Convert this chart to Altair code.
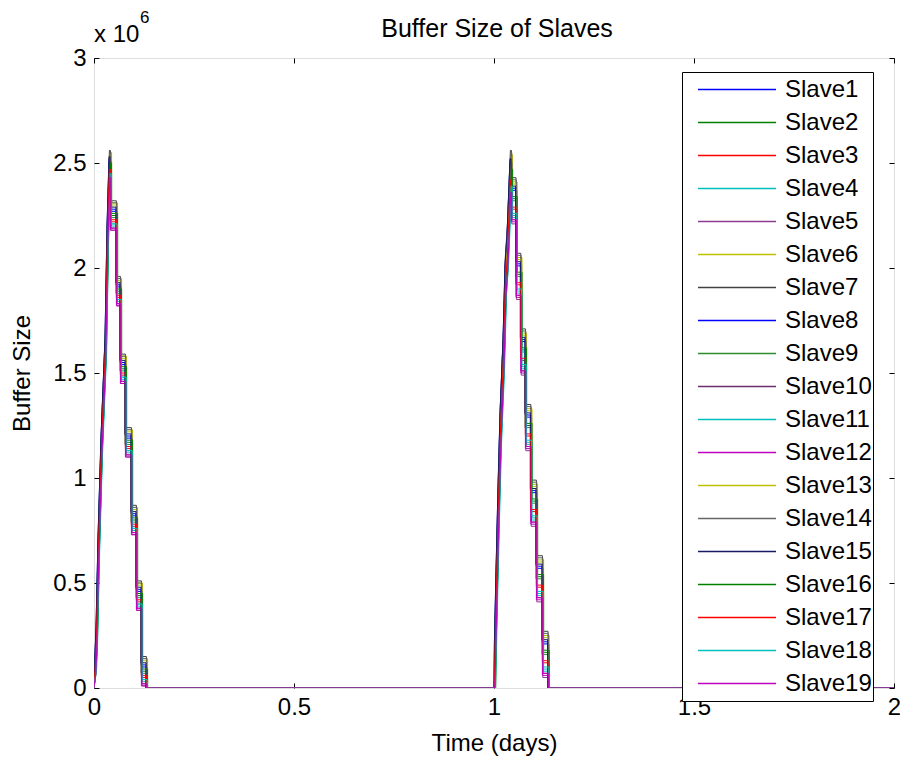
import altair as alt
import pandas as pd

FONT = "Liberation Sans"

# ---- data (time in days, buffer size in units of 1e6) ----
slaves = ["Slave1", "Slave2", "Slave3", "Slave4", "Slave5", "Slave6", "Slave7",
          "Slave8", "Slave9", "Slave10", "Slave11", "Slave12", "Slave13", "Slave14",
          "Slave15", "Slave16", "Slave17", "Slave18", "Slave19"]
colors = ["#0000FF", "#008000", "#FF0000", "#00BFBF", "#8E3A8E", "#BFBF00", "#404040",
          "#0000FF", "#2E8B2E", "#6B2F6B", "#00BFBF", "#BF00BF", "#BFBF00", "#666666",
          "#1A1A66", "#008000", "#FF0000", "#00BFBF", "#BF00BF"]
# per-slave timing lag (days)
slave_lag = [0.000, 0.002, 0.001, 0.003, 0.002, 0.004, 0.001, 0.003, 0.000, 0.002,
             0.004, 0.001, 0.003, 0.002, 0.000, 0.004, 0.001, 0.003, 0.002]
# how far each slave's plateaus sit below the top one (x 1e6), first and second burst
slave_below_1 = [0.04, 0.07, 0.10, 0.12, 0.14, 0.01, 0.00, 0.05, 0.08, 0.13,
                 0.11, 0.14, 0.02, 0.01, 0.03, 0.06, 0.09, 0.11, 0.13]
slave_below_2 = [0.05, 0.10, 0.15, 0.19, 0.22, 0.02, 0.00, 0.06, 0.11, 0.20,
                 0.18, 0.21, 0.03, 0.01, 0.04, 0.09, 0.14, 0.17, 0.20]

# first burst (day 0)
p1_rise_t = [0.000, 0.0025, 0.005, 0.010, 0.0175, 0.0275, 0.0325, 0.0375]
p1_rise_v = [0.00, 0.20, 0.32, 0.75, 1.23, 1.70, 2.23, 2.56]
p1_drop_t = [0.040, 0.055, 0.065, 0.0775, 0.0925, 0.105, 0.1175, 0.130]
p1_level = [2.32, 1.96, 1.59, 1.24, 0.87, 0.51, 0.15, 0.00]

# second burst (day 1)
p2_rise_t = [1.000, 1.001, 1.005, 1.010, 1.015, 1.0225, 1.0275, 1.0325, 1.040]
p2_rise_v = [0.00, 0.26, 0.60, 1.00, 1.35, 1.70, 2.06, 2.20, 2.56]
p2_drop_t = [1.0425, 1.054, 1.066, 1.0775, 1.091, 1.105, 1.120, 1.134]
p2_level = [2.43, 2.07, 1.71, 1.35, 0.99, 0.63, 0.27, 0.00]

end_t = 2.0

x_ticks = [0, 0.5, 1, 1.5, 2]
y_ticks = [0, 0.5, 1, 1.5, 2, 2.5, 3]


def lower(v, d):
    return 0.0 if v == 0 else max(0.0, v - d)


# ---- build the long table ----
rows = []
for k, name in enumerate(slaves):
    lag = slave_lag[k]
    d1 = slave_below_1[k]
    d2 = slave_below_2[k]
    pts = [(0.0, 0.0)]
    for t, v in zip(p1_rise_t[1:], p1_rise_v[1:]):
        pts.append((t + lag, lower(v, d1)))
    prev = lower(p1_rise_v[-1], d1)
    for t, v in zip(p1_drop_t, p1_level):
        pts.append((t + lag, prev))
        prev = lower(v, d1)
        pts.append((t + lag, prev))
    for t, v in zip(p2_rise_t, p2_rise_v):
        pts.append((t + lag, lower(v, d2)))
    prev = lower(p2_rise_v[-1], d2)
    for t, v in zip(p2_drop_t, p2_level):
        pts.append((t + lag, prev))
        prev = lower(v, d2)
        pts.append((t + lag, prev))
    pts.append((end_t, 0.0))
    for i, (t, v) in enumerate(pts):
        rows.append({"slave": name, "t": t, "v": v, "i": i})
df = pd.DataFrame(rows)

xscale = alt.Scale(domain=[0, 2], nice=False, zero=False)
yscale = alt.Scale(domain=[0, 3], nice=False, zero=False)

lines = alt.Chart(df).mark_line(strokeWidth=1, clip=True, opacity=1).encode(
    x=alt.X("t:Q", scale=xscale, axis=alt.Axis(
        orient="bottom", values=x_ticks, format="~g", offset=-5, tickSize=5,
        tickColor="black", tickWidth=1, domain=False, grid=False, labelPadding=7,
        labelFont=FONT, labelFontSize=24, labelColor="black", labelFlush=False,
        labelOverlap=False, title="Time (days)", titleFont=FONT, titleFontSize=24,
        titleFontWeight="normal", titleColor="black", titleY=67,
        titleBaseline="alphabetic")),
    y=alt.Y("v:Q", scale=yscale, axis=alt.Axis(
        orient="left", values=y_ticks, format="~g", offset=-5, tickSize=5,
        tickColor="black", tickWidth=1, domain=False, grid=False, labelPadding=8,
        labelFont=FONT, labelFontSize=24, labelColor="black", labelFlush=False,
        labelOverlap=False, title="Buffer Size", titleFont=FONT, titleFontSize=24,
        titleFontWeight="normal", titleColor="black", titleX=-70, titleY=315,
        titleAngle=270, titleAlign="center", titleBaseline="alphabetic")),
    color=alt.Color("slave:N", scale=alt.Scale(domain=slaves, range=colors),
                    legend=alt.Legend(
                        orient="none", legendX=588, legendY=14, direction="vertical",
                        title=None, symbolType="stroke", symbolSize=6084,
                        symbolStrokeWidth=1.5, clipHeight=33, rowPadding=0, padding=1,
                        symbolOffset=14, labelOffset=8, labelFont=FONT,
                        labelFontSize=24, labelColor="black", fillColor="white",
                        strokeColor="black", zindex=1, symbolLimit=0,
                        labelExpr="datum.label + '  '")),
    order="i:Q",
)

frame_axes = alt.Chart(df).mark_line(opacity=0).encode(
    x=alt.X("t:Q", scale=xscale, axis=alt.Axis(
        orient="top", values=x_ticks, offset=-5, tickSize=5, tickColor="black",
        labels=False, domain=False, grid=False, title=None)),
    y=alt.Y("v:Q", scale=yscale, axis=alt.Axis(
        orient="right", values=y_ticks, offset=-5, tickSize=5, tickColor="black",
        labels=False, domain=False, grid=False, title=None)),
    detail="slave:N",
    order="i:Q",
)

text_df = pd.DataFrame({"title": ["Buffer Size of Slaves"], "base": ["x 10"], "power": ["6"]})
title_txt = alt.Chart(text_df).mark_text(
    align="center", baseline="alphabetic", font=FONT, fontSize=25, color="black"
).encode(x=alt.value(403), y=alt.value(-21), text="title:N")
exp_base = alt.Chart(text_df).mark_text(
    align="left", baseline="alphabetic", font=FONT, fontSize=24, color="black"
).encode(x=alt.value(0), y=alt.value(-16), text="base:N")
exp_pow = alt.Chart(text_df).mark_text(
    align="left", baseline="alphabetic", font=FONT, fontSize=17, color="black"
).encode(x=alt.value(46), y=alt.value(-35), text="power:N")

chart = alt.layer(lines, frame_axes, title_txt, exp_base, exp_pow).resolve_axis(
    x="independent", y="independent"
).properties(
    width=800, height=630,
    padding={"left": 94, "top": 58, "right": 6, "bottom": 71},
    autosize=alt.AutoSizeParams(type="none"),
).configure_view(stroke="black", strokeWidth=1).configure(background="white")

chart.save("out.html", embed_options={"renderer": "svg", "actions": False})
